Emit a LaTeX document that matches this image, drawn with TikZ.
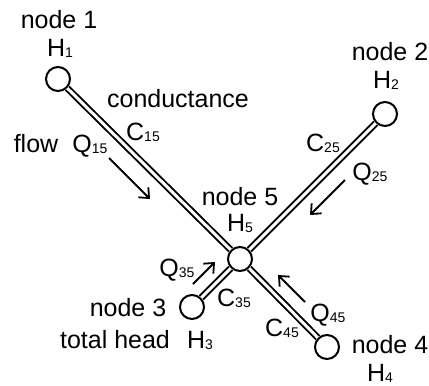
\documentclass[tikz,border=0pt]{standalone}
\usepackage{fontspec}
\setmainfont{Liberation Sans}
\usetikzlibrary{arrows.meta}
\newcommand\subn[1]{{\fontsize{14}{14}\selectfont\raisebox{-1pt}{#1}}}
\tikzset{
  junction/.style={circle,draw,line width=2pt,minimum size=24pt,inner sep=0pt,fill=white},
  pipe/.style={double,line width=1.9pt,double distance=3pt},
  flowarrow/.style={line width=1.8pt,-{Straight Barb[length=8pt,width=14pt,line width=1.8pt]}},
  lbl/.style={anchor=base,inner sep=0pt,font=\fontsize{25}{28}\selectfont}
}
\begin{document}
\begin{tikzpicture}[x=1pt,y=-1pt]
\useasboundingbox (0,0) rectangle (429,386);
% junctions
\node[junction] (n1) at (58,79) {};
\node[junction] (n2) at (385,114) {};
\node[junction] (n3) at (192,307) {};
\node[junction] (n4) at (327,347) {};
\node[junction] (n5) at (240,259) {};
% pipes
\draw[pipe] (n1) -- (n5);
\draw[pipe] (n2) -- (n5);
\draw[pipe] (n3) -- (n5);
\draw[pipe] (n4) -- (n5);
% flow directions
\coordinate (q15a) at (109,158); \coordinate (q15b) at (150,199);
\coordinate (q25a) at (345,180); \coordinate (q25b) at (310,215);
\coordinate (q35a) at (193,284); \coordinate (q35b) at (215,262);
\coordinate (q45a) at (305,302); \coordinate (q45b) at (278,275);
\draw[flowarrow] (q15a) -- (q15b);
\draw[flowarrow] (q25a) -- (q25b);
\draw[flowarrow] (q35a) -- (q35b);
\draw[flowarrow] (q45a) -- (q45b);
% labels
\node[lbl] (t1) at (59,28) {node 1};
\node[lbl] (h1) at (60,56) {H\subn{1}};
\node[lbl] (tc) at (178,107) {conductance};
\node[lbl] (c15) at (143,140) {C\subn{15}};
\node[lbl] (tf) at (36,152) {flow};
\node[lbl] (q15) at (90,152) {Q\subn{15}};
\node[lbl] (t2) at (390,60) {node 2};
\node[lbl] (h2) at (386,88) {H\subn{2}};
\node[lbl] (c25) at (323,151) {C\subn{25}};
\node[lbl] (q25) at (370,180) {Q\subn{25}};
\node[lbl] (t5) at (240,205) {node 5};
\node[lbl] (h5) at (240,231) {H\subn{5}};
\node[lbl] (q35) at (177,276) {Q\subn{35}};
\node[lbl] (c35) at (234,306) {C\subn{35}};
\node[lbl] (t3) at (128,316) {node 3};
\node[lbl] (th) at (115,348) {total head};
\node[lbl] (h3) at (200,348) {H\subn{3}};
\node[lbl] (q45) at (328,321) {Q\subn{45}};
\node[lbl] (c45) at (282,336) {C\subn{45}};
\node[lbl] (t4) at (390,353) {node 4};
\node[lbl] (h4) at (380,381) {H\subn{4}};
\end{tikzpicture}
\end{document}
